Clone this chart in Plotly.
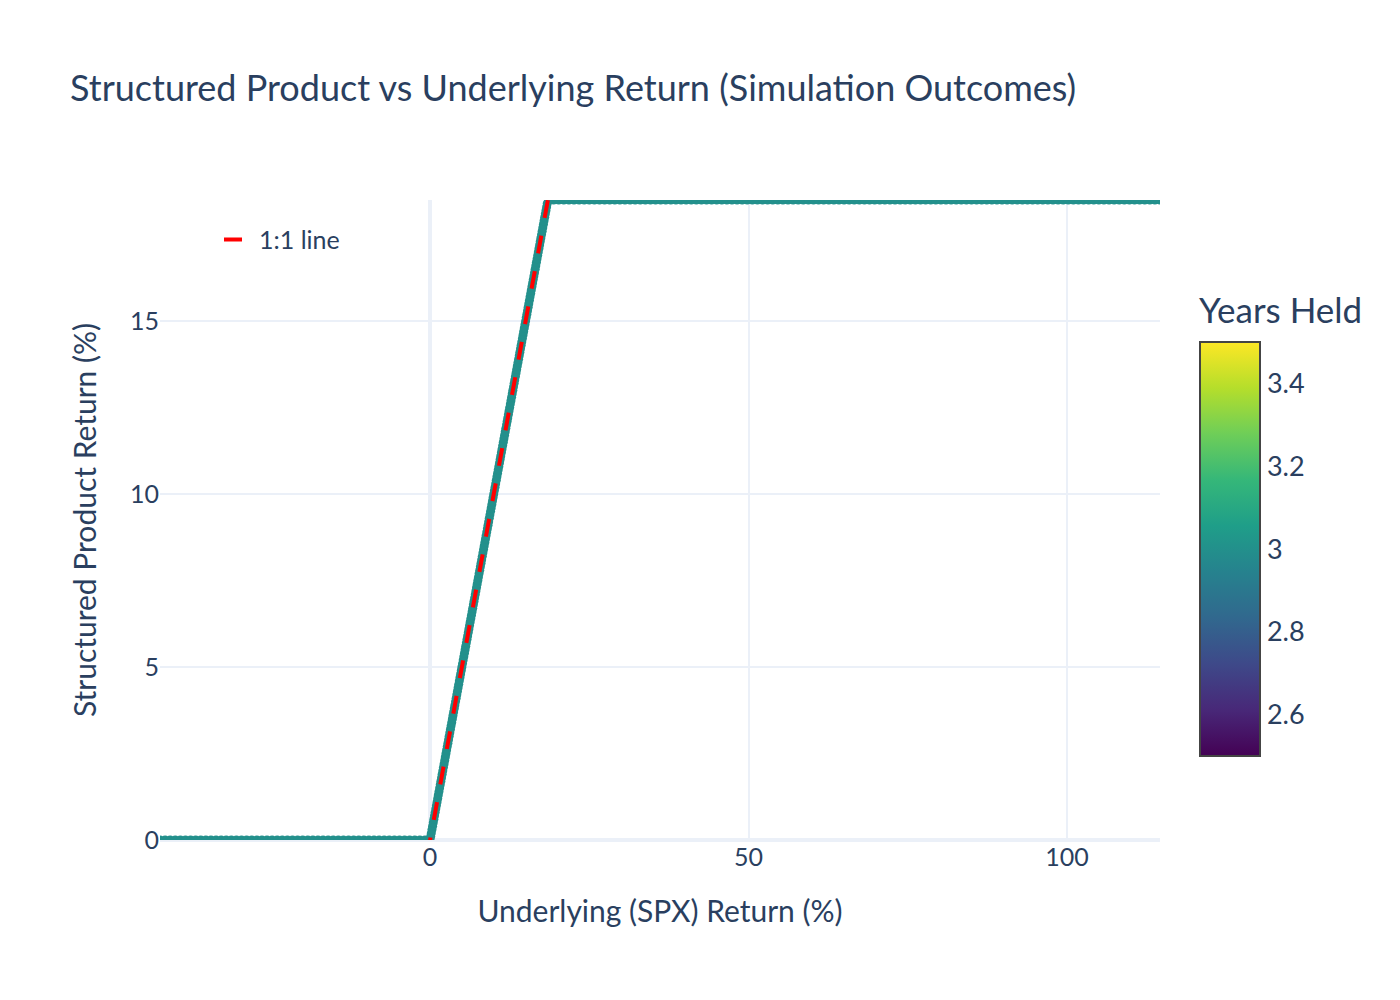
import plotly.graph_objects as go

# Simulated outcomes: underlying SPX return vs product return, in %
spx_return = [
    -42.4, -41.6, -40.8, -40.0, -39.2, -38.4, -37.6, -36.8, -36.0, -35.2,
    -34.4, -33.6, -32.8, -32.0, -31.2, -30.4, -29.6, -28.8, -28.0, -27.2,
    -26.4, -25.6, -24.8, -24.0, -23.2, -22.4, -21.6, -20.8, -20.0, -19.2,
    -18.4, -17.6, -16.8, -16.0, -15.2, -14.4, -13.6, -12.8, -12.0, -11.2,
    -10.4, -9.6, -8.8, -8.0, -7.2, -6.4, -5.6, -4.8, -4.0, -3.2,
    -2.4, -1.6, -0.8,
    0.0, 0.1, 0.2, 0.3, 0.4, 0.5, 0.6, 0.7, 0.8, 0.9,
    1.0, 1.1, 1.2, 1.3, 1.4, 1.5, 1.6, 1.7, 1.8, 1.9,
    2.0, 2.1, 2.2, 2.3, 2.4, 2.5, 2.6, 2.7, 2.8, 2.9,
    3.0, 3.1, 3.2, 3.3, 3.4, 3.5, 3.6, 3.7, 3.8, 3.9,
    4.0, 4.1, 4.2, 4.3, 4.4, 4.5, 4.6, 4.7, 4.8, 4.9,
    5.0, 5.1, 5.2, 5.3, 5.4, 5.5, 5.6, 5.7, 5.8, 5.9,
    6.0, 6.1, 6.2, 6.3, 6.4, 6.5, 6.6, 6.7, 6.8, 6.9,
    7.0, 7.1, 7.2, 7.3, 7.4, 7.5, 7.6, 7.7, 7.8, 7.9,
    8.0, 8.1, 8.2, 8.3, 8.4, 8.5, 8.6, 8.7, 8.8, 8.9,
    9.0, 9.1, 9.2, 9.3, 9.4, 9.5, 9.6, 9.7, 9.8, 9.9,
    10.0, 10.1, 10.2, 10.3, 10.4, 10.5, 10.6, 10.7, 10.8, 10.9,
    11.0, 11.1, 11.2, 11.3, 11.4, 11.5, 11.6, 11.7, 11.8, 11.9,
    12.0, 12.1, 12.2, 12.3, 12.4, 12.5, 12.6, 12.7, 12.8, 12.9,
    13.0, 13.1, 13.2, 13.3, 13.4, 13.5, 13.6, 13.7, 13.8, 13.9,
    14.0, 14.1, 14.2, 14.3, 14.4, 14.5, 14.6, 14.7, 14.8, 14.9,
    15.0, 15.1, 15.2, 15.3, 15.4, 15.5, 15.6, 15.7, 15.8, 15.9,
    16.0, 16.1, 16.2, 16.3, 16.4, 16.5, 16.6, 16.7, 16.8, 16.9,
    17.0, 17.1, 17.2, 17.3, 17.4, 17.5, 17.6, 17.7, 17.8, 17.9,
    18.0, 18.1, 18.2, 18.3, 18.4,
    18.6, 19.4, 20.2, 21.0, 21.8, 22.6, 23.4, 24.2, 25.0, 25.8,
    26.6, 27.4, 28.2, 29.0, 29.8, 30.6, 31.4, 32.2, 33.0, 33.8,
    34.6, 35.4, 36.2, 37.0, 37.8, 38.6, 39.4, 40.2, 41.0, 41.8,
    42.6, 43.4, 44.2, 45.0, 45.8, 46.6, 47.4, 48.2, 49.0, 49.8,
    50.6, 51.4, 52.2, 53.0, 53.8, 54.6, 55.4, 56.2, 57.0, 57.8,
    58.6, 59.4, 60.2, 61.0, 61.8, 62.6, 63.4, 64.2, 65.0, 65.8,
    66.6, 67.4, 68.2, 69.0, 69.8, 70.6, 71.4, 72.2, 73.0, 73.8,
    74.6, 75.4, 76.2, 77.0, 77.8, 78.6, 79.4, 80.2, 81.0, 81.8,
    82.6, 83.4, 84.2, 85.0, 85.8, 86.6, 87.4, 88.2, 89.0, 89.8,
    90.6, 91.4, 92.2, 93.0, 93.8, 94.6, 95.4, 96.2, 97.0, 97.8,
    98.6, 99.4, 100.2, 101.0, 101.8, 102.6, 103.4, 104.2, 105.0, 105.8,
    106.6, 107.4, 108.2, 109.0, 109.8, 110.6, 111.4, 112.2, 113.0, 113.8,
    114.6,
]
product_return = [
    0, 0, 0, 0, 0, 0, 0, 0, 0, 0,
    0, 0, 0, 0, 0, 0, 0, 0, 0, 0,
    0, 0, 0, 0, 0, 0, 0, 0, 0, 0,
    0, 0, 0, 0, 0, 0, 0, 0, 0, 0,
    0, 0, 0, 0, 0, 0, 0, 0, 0, 0,
    0, 0, 0,
    0.0, 0.1, 0.2, 0.3, 0.4, 0.5, 0.6, 0.7, 0.8, 0.9,
    1.0, 1.1, 1.2, 1.3, 1.4, 1.5, 1.6, 1.7, 1.8, 1.9,
    2.0, 2.1, 2.2, 2.3, 2.4, 2.5, 2.6, 2.7, 2.8, 2.9,
    3.0, 3.1, 3.2, 3.3, 3.4, 3.5, 3.6, 3.7, 3.8, 3.9,
    4.0, 4.1, 4.2, 4.3, 4.4, 4.5, 4.6, 4.7, 4.8, 4.9,
    5.0, 5.1, 5.2, 5.3, 5.4, 5.5, 5.6, 5.7, 5.8, 5.9,
    6.0, 6.1, 6.2, 6.3, 6.4, 6.5, 6.6, 6.7, 6.8, 6.9,
    7.0, 7.1, 7.2, 7.3, 7.4, 7.5, 7.6, 7.7, 7.8, 7.9,
    8.0, 8.1, 8.2, 8.3, 8.4, 8.5, 8.6, 8.7, 8.8, 8.9,
    9.0, 9.1, 9.2, 9.3, 9.4, 9.5, 9.6, 9.7, 9.8, 9.9,
    10.0, 10.1, 10.2, 10.3, 10.4, 10.5, 10.6, 10.7, 10.8, 10.9,
    11.0, 11.1, 11.2, 11.3, 11.4, 11.5, 11.6, 11.7, 11.8, 11.9,
    12.0, 12.1, 12.2, 12.3, 12.4, 12.5, 12.6, 12.7, 12.8, 12.9,
    13.0, 13.1, 13.2, 13.3, 13.4, 13.5, 13.6, 13.7, 13.8, 13.9,
    14.0, 14.1, 14.2, 14.3, 14.4, 14.5, 14.6, 14.7, 14.8, 14.9,
    15.0, 15.1, 15.2, 15.3, 15.4, 15.5, 15.6, 15.7, 15.8, 15.9,
    16.0, 16.1, 16.2, 16.3, 16.4, 16.5, 16.6, 16.7, 16.8, 16.9,
    17.0, 17.1, 17.2, 17.3, 17.4, 17.5, 17.6, 17.7, 17.8, 17.9,
    18.0, 18.1, 18.2, 18.3, 18.4,
    18.5, 18.5, 18.5, 18.5, 18.5, 18.5, 18.5, 18.5, 18.5, 18.5,
    18.5, 18.5, 18.5, 18.5, 18.5, 18.5, 18.5, 18.5, 18.5, 18.5,
    18.5, 18.5, 18.5, 18.5, 18.5, 18.5, 18.5, 18.5, 18.5, 18.5,
    18.5, 18.5, 18.5, 18.5, 18.5, 18.5, 18.5, 18.5, 18.5, 18.5,
    18.5, 18.5, 18.5, 18.5, 18.5, 18.5, 18.5, 18.5, 18.5, 18.5,
    18.5, 18.5, 18.5, 18.5, 18.5, 18.5, 18.5, 18.5, 18.5, 18.5,
    18.5, 18.5, 18.5, 18.5, 18.5, 18.5, 18.5, 18.5, 18.5, 18.5,
    18.5, 18.5, 18.5, 18.5, 18.5, 18.5, 18.5, 18.5, 18.5, 18.5,
    18.5, 18.5, 18.5, 18.5, 18.5, 18.5, 18.5, 18.5, 18.5, 18.5,
    18.5, 18.5, 18.5, 18.5, 18.5, 18.5, 18.5, 18.5, 18.5, 18.5,
    18.5, 18.5, 18.5, 18.5, 18.5, 18.5, 18.5, 18.5, 18.5, 18.5,
    18.5, 18.5, 18.5, 18.5, 18.5, 18.5, 18.5, 18.5, 18.5, 18.5,
    18.5,
]
years_held = 3  # every simulated path was held 3 years

# 1:1 reference line endpoints
one_to_one = [-42.4, 114.6]

FONT = "Source Sans Pro, Lato, sans-serif"
INK = "#2a3f5f"

fig = go.Figure()

fig.add_trace(go.Scatter(
    x=spx_return, y=product_return, mode="markers",
    marker=dict(
        size=9, color=[years_held] * len(spx_return), colorscale="Viridis",
        colorbar=dict(
            title=dict(text="Years Held", font=dict(size=35)),
            thickness=60, len=0.72, y=0.131, yanchor="bottom", ypad=0, xpad=20,
            outlinewidth=2, outlinecolor="#444",
            tickfont=dict(size=27),
        ),
    ),
    showlegend=False,
))

fig.add_trace(go.Scatter(
    x=one_to_one, y=one_to_one, mode="lines",
    line=dict(color="red", width=4, dash="18px,18px"),
    name="1:1 line",
))

fig.update_layout(
    template="plotly_white",
    width=1400, height=1000,
    font=dict(family=FONT, size=25, color=INK),
    title=dict(text="Structured Product vs Underlying Return (Simulation Outcomes)",
               x=0.0443, xanchor="left", y=0.92, yanchor="middle",
               font=dict(size=36)),
    margin=dict(l=152, r=248, t=192, b=168),
    legend=dict(x=0.059, y=0.974, bgcolor="rgba(255,255,255,0)", font=dict(size=25)),
    xaxis=dict(title=dict(text="Underlying (SPX) Return (%)", font=dict(size=30), standoff=30),
               range=[-42.4, 114.6], dtick=50, automargin=False,
               gridwidth=2, zerolinewidth=4),
    yaxis=dict(title=dict(text="Structured Product Return (%)", font=dict(size=30), standoff=24),
               range=[0, 18.5], dtick=5, automargin=False,
               gridwidth=2, zerolinewidth=4),
)

fig.write_html("out.html")
